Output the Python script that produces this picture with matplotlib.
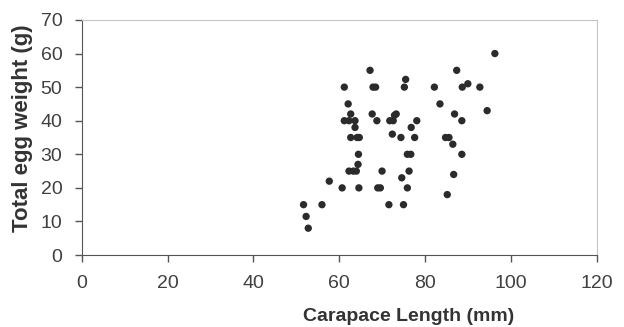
import matplotlib
matplotlib.use("Agg")
import matplotlib.pyplot as plt

plt.rcParams['font.family'] = ['Liberation Sans', 'DejaVu Sans']

# carapace length (mm)
length = [51.7, 52.3, 52.8, 56.0, 57.7, 60.7, 61.2, 61.2, 62.1, 62.3,
          62.7, 62.7, 62.3, 63.3, 63.7, 63.7, 64.0, 64.2, 64.7, 64.5,
          64.4, 64.6, 67.2, 67.7, 67.9, 68.5, 68.8, 69.0, 69.6, 70.0,
          71.6, 71.8, 72.4, 72.6, 72.9, 73.3, 74.4, 74.6, 75.0, 75.2,
          75.5, 75.9, 75.9, 76.7, 76.3, 76.8, 77.6, 78.1, 82.2, 83.5,
          84.8, 85.6, 85.2, 86.5, 86.7, 86.9, 87.4, 88.6, 88.6, 88.7,
          90.0, 92.8, 94.5, 96.3]
# total egg weight (g)
weight = [15, 11.5, 8, 15, 22, 20, 50, 40, 45, 40,
          42, 35, 25, 25, 40, 38, 25, 35, 35, 30,
          27, 20, 55, 42, 50, 50, 40, 20, 20, 25,
          15, 40, 36, 40, 41.6, 42, 35, 23, 15, 50,
          52.3, 20, 30, 30, 25, 38, 35, 40, 50, 45,
          35, 35, 18, 33, 24, 42, 55, 30, 40, 50,
          51, 50, 43, 60]

fig = plt.figure(figsize=(6.24, 3.27), dpi=100)
ax = fig.add_axes([0.131, 0.220, 0.825, 0.719])

ax.scatter(length, weight, s=28, color='#2b2b2b', edgecolors='none', zorder=3)

ax.set_xlim(0, 120)
ax.set_ylim(0, 70)
ax.set_xticks(range(0, 121, 20))
ax.set_yticks(range(0, 71, 10))

for side in ['left', 'bottom']:
    ax.spines[side].set_color('#555555')
for side in ['right', 'top']:
    ax.spines[side].set_color('#c4c4c4')
    ax.spines[side].set_linewidth(0.8)

ax.tick_params(axis='both', labelsize=14, colors='#555555', labelcolor='#404040',
               length=5, width=1, direction='out')
ax.tick_params(axis='x', pad=9)
ax.tick_params(axis='y', pad=9)

ax.set_xlabel('Carapace Length (mm)', fontsize=14, fontweight='bold', color='#333333')
ax.set_ylabel('Total egg weight (g)', fontsize=16, fontweight='bold', color='#333333')
ax.xaxis.set_label_coords(0.635, -0.225)
ax.yaxis.set_label_coords(-0.095, 0.54)

fig.savefig('out.png', dpi=100)
